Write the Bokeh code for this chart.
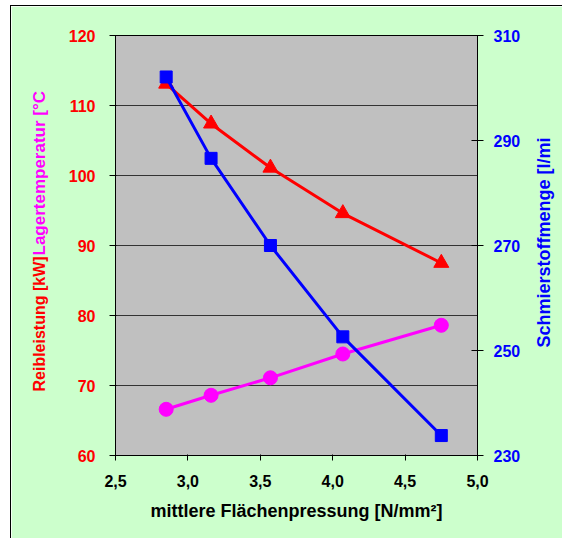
from bokeh.plotting import figure
from bokeh.models import Range1d, LinearAxis, FixedTicker, Title
from bokeh.embed import file_html
from bokeh.resources import INLINE

# ---- data ----
pressure = [2.85, 3.16, 3.57, 4.07, 4.75]
reibleistung = [113.1, 107.4, 101.1, 94.6, 87.5]
lagertemp = [66.6, 68.6, 71.1, 74.5, 78.6]
schmierstoff = [302.1, 286.6, 270.0, 252.6, 233.8]

x_ticks = [2.5, 3.0, 3.5, 4.0, 4.5, 5.0]
x_tick_labels = ["2,5", "3,0", "3,5", "4,0", "4,5", "5,0"]
left_ticks = [60, 70, 80, 90, 100, 110, 120]
right_ticks = [230, 250, 270, 290, 310]

x_title = "mittlere Flächenpressung [N/mm²]"
left_title_1 = "Reibleistung [kW]"
left_title_2 = "Lagertemperatur [°C"
right_title = "Schmierstoffmenge [l/mi"

GREEN = "#CCFFCC"
GRAY = "#C0C0C0"
RED = "#FF0000"
MAGENTA = "#FF00FF"
BLUE = "#0000FF"
FONT = "Liberation Sans"

p = figure(width=552, height=533, output_backend="svg", toolbar_location=None,
           x_range=Range1d(2.5, 5.0), y_range=Range1d(60, 120),
           min_border_left=103, min_border_right=86, min_border_top=29,
           min_border_bottom=84)
p.styles = {"margin-left": "10px", "margin-top": "5px",
            "border-left": "1px solid #000000", "border-top": "1px solid #000000"}
p.background_fill_color = GRAY
p.border_fill_color = GREEN
p.outline_line_color = "#000000"
p.outline_line_width = 1

p.extra_y_ranges = {"right": Range1d(230, 310)}

# grids
p.xgrid.visible = False
p.ygrid.grid_line_color = "#333333"
p.ygrid.grid_line_width = 1
p.ygrid.ticker = FixedTicker(ticks=left_ticks)

# bottom axis
xa = p.xaxis[0]
xa.ticker = FixedTicker(ticks=x_ticks)
xa.major_label_overrides = {t: l for t, l in zip(x_ticks, x_tick_labels)}
xa.minor_tick_line_color = None
xa.major_tick_out = 5
xa.major_tick_in = 1
xa.major_label_standoff = 14
xa.major_label_text_font = FONT
xa.major_label_text_font_style = "bold"
xa.major_label_text_font_size = "16px"
xa.major_label_text_color = "#000000"
xa.axis_label = x_title
xa.axis_label_text_font = FONT
xa.axis_label_text_font_style = "bold"
xa.axis_label_text_font_size = "18px"
xa.axis_label_text_color = "#000000"
xa.axis_label_standoff = 11
xa.axis_line_color = "#000000"

# left axis
ya = p.yaxis[0]
ya.ticker = FixedTicker(ticks=left_ticks)
ya.minor_tick_line_color = None
ya.major_tick_out = 6
ya.major_tick_in = 1
ya.major_label_standoff = 14
ya.major_label_text_font = FONT
ya.major_label_text_font_style = "bold"
ya.major_label_text_font_size = "16px"
ya.major_label_text_color = RED
ya.axis_line_color = "#000000"

# right axis
ra = LinearAxis(y_range_name="right", ticker=FixedTicker(ticks=right_ticks))
ra.minor_tick_line_color = None
ra.major_tick_out = 6
ra.major_tick_in = 6
ra.major_label_standoff = 10
ra.major_label_text_font = FONT
ra.major_label_text_font_style = "bold"
ra.major_label_text_font_size = "16px"
ra.major_label_text_color = BLUE
ra.axis_line_color = "#000000"
p.add_layout(ra, "right")

# series
p.line(pressure, reibleistung, line_color=RED, line_width=3)
p.scatter(pressure, reibleistung, marker="triangle", size=15,
          fill_color=RED, line_color=RED)
p.line(pressure, lagertemp, line_color=MAGENTA, line_width=3)
p.scatter(pressure, lagertemp, marker="circle", size=14,
          fill_color=MAGENTA, line_color=MAGENTA)
p.line(pressure, schmierstoff, line_color=BLUE, line_width=3, y_range_name="right")
p.scatter(pressure, schmierstoff, marker="square", size=12,
          fill_color=BLUE, line_color=BLUE, y_range_name="right")

# axis titles reading bottom-to-top (side titles, shifted by their standoff)
t_blue = Title(text=right_title, text_color=BLUE, text_font=FONT,
               text_font_style="bold", text_font_size="18px",
               align="left", offset=108, standoff=-977.4, vertical_align="bottom")
t_red = Title(text=left_title_1, text_color=RED, text_font=FONT,
              text_font_style="bold", text_font_size="16px",
              align="left", offset=64, standoff=34.7, vertical_align="bottom")
t_mag = Title(text=left_title_2, text_color=MAGENTA, text_font=FONT,
              text_font_style="bold", text_font_size="17px",
              align="left", offset=200, standoff=-75.6, vertical_align="bottom")
p.add_layout(t_blue, "left")
p.add_layout(t_red, "left")
p.add_layout(t_mag, "left")

open("out.html", "w").write(file_html(p, INLINE))
